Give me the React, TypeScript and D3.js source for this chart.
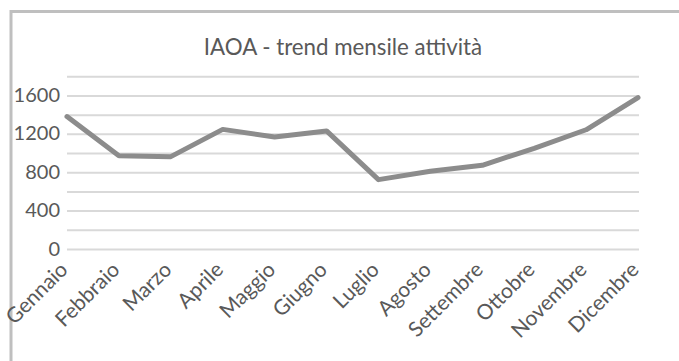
import React from "react";
import * as d3 from "d3";

const months = [
  "Gennaio", "Febbraio", "Marzo", "Aprile", "Maggio", "Giugno",
  "Luglio", "Agosto", "Settembre", "Ottobre", "Novembre", "Dicembre",
];
const activity = [1385, 978, 968, 1252, 1172, 1236, 728, 815, 878, 1055, 1248, 1583];
const yTickLabels = [0, 400, 800, 1200, 1600];
const gridValues = [0, 200, 400, 600, 800, 1000, 1200, 1400, 1600, 1800];

const W = 679;
const H = 361;
const FONT = "Lato, Carlito, 'Open Sans', sans-serif";
const TEXT = "#595959";

export default function App() {
  const x = d3.scalePoint<string>().domain(months).range([67, 638]);
  const y = d3.scaleLinear().domain([0, 1800]).range([249.5, 76.8]);

  const line = d3
    .line<number>()
    .x((_, i) => x(months[i]) as number)
    .y((d) => y(d));

  return (
    <svg
      width={W}
      height={H}
      style={{ position: "fixed", left: 0, top: 0, background: "#fff" }}
    >
      <rect x={0} y={0} width={W} height={H} fill="#fff" />
      {/* chart area frame */}
      <rect
        x={11}
        y={11.5}
        width={W + 20}
        height={H + 20}
        fill="none"
        stroke="#bfbfbf"
        strokeWidth={3}
      />
      <text
        x={343}
        y={54.5}
        textAnchor="middle"
        fontFamily={FONT}
        fontSize={22.3}
        fill={TEXT}
      >
        IAOA - trend mensile attività
      </text>

      {gridValues.map((v) => (
        <line
          key={v}
          x1={67}
          x2={639}
          y1={y(v)}
          y2={y(v)}
          stroke="#d9d9d9"
          strokeWidth={2}
        />
      ))}

      {yTickLabels.map((v) => (
        <text
          key={v}
          x={60}
          y={y(v) + 6}
          textAnchor="end"
          fontFamily={FONT}
          fontSize={20}
          fill={TEXT}
        >
          {v}
        </text>
      ))}

      {months.map((m) => {
        const cx = (x(m) as number) + 2;
        const cy = 271;
        return (
          <text
            key={m}
            x={cx}
            y={cy}
            textAnchor="end"
            transform={`rotate(-45 ${cx} ${cy})`}
            fontFamily={FONT}
            fontSize={21}
            fill={TEXT}
          >
            {m}
          </text>
        );
      })}

      <path
        d={line(activity) ?? ""}
        fill="none"
        stroke="#8c8c8c"
        strokeWidth={5}
        strokeLinejoin="round"
        strokeLinecap="round"
      />
    </svg>
  );
}
